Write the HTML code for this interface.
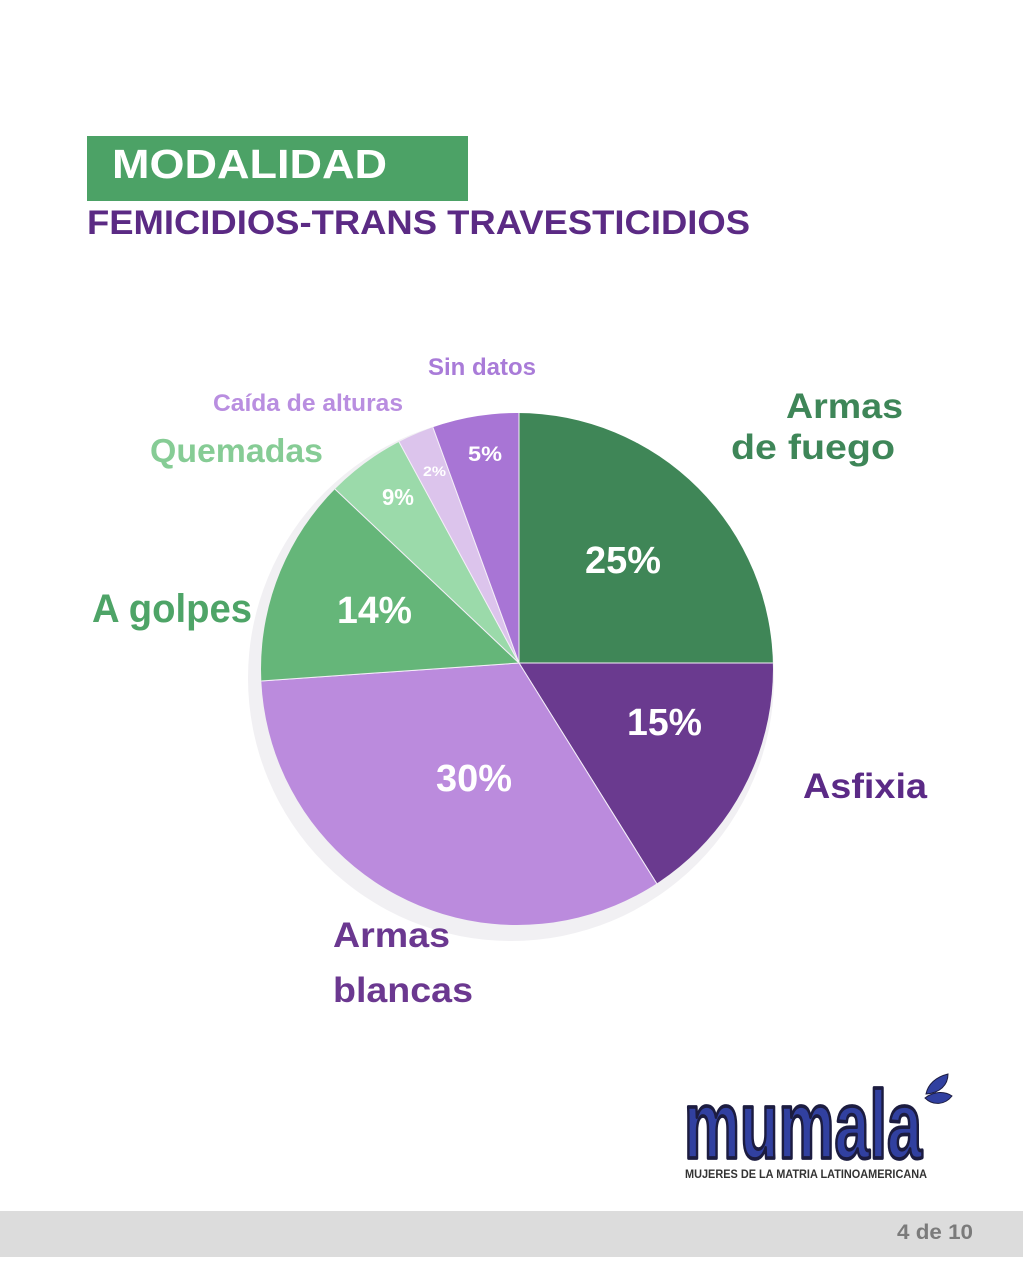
<!DOCTYPE html>
<html>
<head>
<meta charset="utf-8">
<style>
  html,body{margin:0;padding:0;background:#ffffff;}
  body{width:1023px;height:1280px;overflow:hidden;}
  svg{display:block;}
  text{font-family:"Liberation Sans", "DejaVu Sans", sans-serif;font-weight:bold;}
</style>
</head>
<body>
<svg width="1023" height="1280" viewBox="0 0 1023 1280" xmlns="http://www.w3.org/2000/svg">
  <rect x="0" y="0" width="1023" height="1280" fill="#ffffff"/>

  <!-- Title -->
  <rect x="87" y="136" width="381" height="65" fill="#4ca266"/>
  <text x="112" y="178" font-size="41" fill="#ffffff" textLength="275" lengthAdjust="spacingAndGlyphs">MODALIDAD</text>
  <text x="87" y="234" font-size="34" fill="#5b2a84" textLength="663" lengthAdjust="spacingAndGlyphs">FEMICIDIOS-TRANS TRAVESTICIDIOS</text>

  <!-- Pie shadow -->
  <circle cx="511" cy="678" r="263" fill="#f1f0f3"/>

  <defs>
    <clipPath id="pieclip">
      <circle cx="517" cy="669" r="256"/>
    </clipPath>
  </defs>

  <g clip-path="url(#pieclip)" stroke="#f4eef8" stroke-width="1" stroke-linejoin="round">
    <polygon points="519,663 519,100 900,100 900,663" fill="#3f8657"/>
    <polygon points="519,663 900,663 900,1105 795,1105" fill="#6a3a8f"/>
    <polygon points="519,663 795,1105 0,1105 3,699" fill="#bb8bdd"/>
    <polygon points="519,663 3,699 0,317 153,317" fill="#65b679"/>
    <polygon points="519,663 153,317 281,224" fill="#9bdaaa"/>
    <polygon points="519,663 281,224 347,192" fill="#dcc4ec"/>
    <polygon points="519,663 347,192 519,100" fill="#a875d5"/>
  </g>

  <!-- Percent labels -->
  <g fill="#ffffff">
    <text x="585" y="573" font-size="38" textLength="76" lengthAdjust="spacingAndGlyphs">25%</text>
    <text x="627" y="735" font-size="38" textLength="75" lengthAdjust="spacingAndGlyphs">15%</text>
    <text x="436" y="791" font-size="38" textLength="76" lengthAdjust="spacingAndGlyphs">30%</text>
    <text x="337" y="623" font-size="38" textLength="75" lengthAdjust="spacingAndGlyphs">14%</text>
    <text x="382" y="505" font-size="23" textLength="32" lengthAdjust="spacingAndGlyphs">9%</text>
    <text x="423" y="476" font-size="14" textLength="23" lengthAdjust="spacingAndGlyphs">2%</text>
    <text x="468" y="461" font-size="21" textLength="34" lengthAdjust="spacingAndGlyphs">5%</text>
  </g>

  <!-- Category labels -->
  <text x="428" y="375" font-size="24" fill="#a97bd8" textLength="108" lengthAdjust="spacingAndGlyphs">Sin datos</text>
  <text x="213" y="411" font-size="24" fill="#b98ee0" textLength="190" lengthAdjust="spacingAndGlyphs">Caída de alturas</text>
  <text x="150" y="462" font-size="33" fill="#86cc95" textLength="173" lengthAdjust="spacingAndGlyphs">Quemadas</text>
  <text x="92" y="622" font-size="40" fill="#4ea467" textLength="160" lengthAdjust="spacingAndGlyphs">A golpes</text>
  <text x="786" y="418" font-size="35" fill="#3e8658" textLength="117" lengthAdjust="spacingAndGlyphs">Armas</text>
  <text x="731" y="459" font-size="35" fill="#3e8658" textLength="164" lengthAdjust="spacingAndGlyphs">de fuego</text>
  <text x="803" y="798" font-size="35" fill="#5b2a86" textLength="124" lengthAdjust="spacingAndGlyphs">Asfixia</text>
  <text x="333" y="947" font-size="35" fill="#6b3890" textLength="117" lengthAdjust="spacingAndGlyphs">Armas</text>
  <text x="333" y="1002" font-size="35" fill="#6b3890" textLength="140" lengthAdjust="spacingAndGlyphs">blancas</text>

  <!-- Logo -->
  <g transform="translate(684,1158) scale(1,1.55)">
    <text x="0" y="0" font-size="62" fill="#3140a0" stroke="#1c1c40" stroke-width="2.4" stroke-linejoin="round" textLength="238" lengthAdjust="spacingAndGlyphs">mumala</text>
  </g>
  <path d="M926,1094 C928,1084 936,1077 948,1074 C948,1085 940,1093 926,1094 Z" fill="#3140a0" stroke="#1c1c40" stroke-width="1"/>
  <path d="M925,1098 C934,1091 945,1091 952,1096 C945,1105 933,1106 925,1098 Z" fill="#3140a0" stroke="#1c1c40" stroke-width="1"/>
  <text x="685" y="1178" font-size="12" fill="#333333" textLength="242" lengthAdjust="spacingAndGlyphs">MUJERES DE LA MATRIA LATINOAMERICANA</text>

  <!-- Footer bar -->
  <rect x="0" y="1211" width="1023" height="46" fill="#dcdcdc"/>
  <text x="897" y="1239" font-size="21" fill="#7b7b7b" textLength="76" lengthAdjust="spacingAndGlyphs">4 de 10</text>
</svg>
</body>
</html>
